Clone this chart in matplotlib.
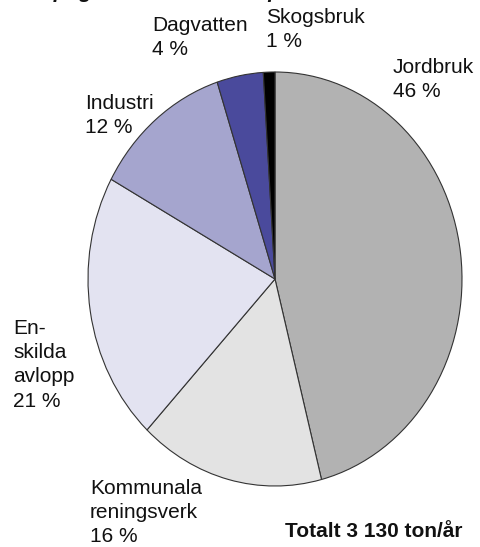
import matplotlib.pyplot as plt

plt.rcParams['font.family'] = ['Liberation Sans', 'DejaVu Sans']

W, H = 481, 547

# clockwise from 12 o'clock
sources = ["Jordbruk", "Kommunala\nreningsverk", "En-\nskilda\navlopp", "Industri", "Dagvatten", "Skogsbruk"]
shares = [46, 16, 21, 12, 4, 1]
colors = ["#b2b2b2", "#e3e3e3", "#e3e3f1", "#a5a5ce", "#4a4a9c", "#000000"]
# label anchor (left, top) in pixels
label_pos = [(393, 58), (90, 479), (13, 319), (85, 94), (152, 16), (266, 8)]
total_text = "Totalt 3 130 ton/år"


def px(x, y):
    return x / W, 1 - y / H


fig = plt.figure(figsize=(W / 100, H / 100), dpi=100)

# pie bounding box in pixels (slightly stretched, like the original)
left, top, right, bottom = 88, 72, 462, 486
ax = fig.add_axes([left / W, 1 - bottom / H, (right - left) / W, (bottom - top) / H])
ax.pie(shares, colors=colors, startangle=90, counterclock=False,
       wedgeprops=dict(edgecolor="#333333", linewidth=0.8))
ax.set_aspect('auto')
ax.set_xlim(-1, 1)
ax.set_ylim(-1, 1)
ax.axis('off')

for name, val, (x, y) in zip(sources, shares, label_pos):
    fx, fy = px(x, y)
    fig.text(fx, fy, f"{name}\n{val} %", ha='left', va='top', fontsize=15,
             linespacing=1.35, color="#111111")

fx, fy = px(285, 537)
fig.text(fx, fy, total_text, ha='left', va='baseline', fontsize=15,
         fontweight='bold', color="#111111")

# title is cut off at the top in the original
fx, fy = px(-2, -2)
fig.text(fx, fy, "Antropogen fosfortillförsel per källa", ha='left', va='baseline',
         fontsize=15, fontstyle='italic', fontweight='bold', color="#111111")

fig.savefig("out.png", dpi=100)
